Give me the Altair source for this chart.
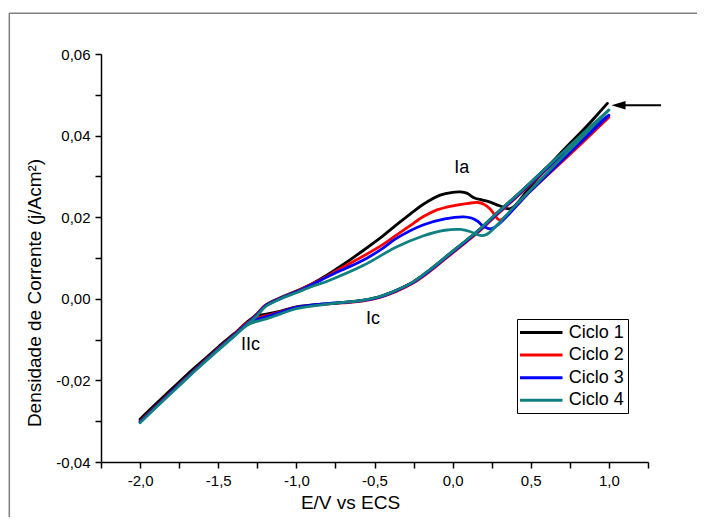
import altair as alt
import pandas as pd

cycles = ["Ciclo 1", "Ciclo 2", "Ciclo 3", "Ciclo 4"]
colors = ["#000000", "#ff0000", "#0000ff", "#108080"]

# Ciclo 1 (forward / anodic scan, then reverse / cathodic scan)
c1_fwd_E = [-2.00, -1.90, -1.80, -1.70, -1.60, -1.50, -1.40, -1.32, -1.25, -1.20, -1.10, -1.00, -0.90,
            -0.80, -0.70, -0.57, -0.45, -0.36, -0.27, -0.19, -0.08, 0.00, 0.05, 0.09, 0.14, 0.19, 0.24,
            0.30, 0.37, 0.50, 0.70, 0.85, 0.99]
c1_fwd_j = [-0.0295, -0.0258, -0.0222, -0.0186, -0.0152, -0.0118, -0.0086, -0.0060, -0.0036, -0.0016,
            0.0003, 0.0019, 0.0037, 0.0059, 0.0084, 0.0119, 0.0153, 0.0181, 0.0208, 0.0231, 0.0254,
            0.0261, 0.0262, 0.0259, 0.0247, 0.0242, 0.0237, 0.0228, 0.0221, 0.0276, 0.0361, 0.0420, 0.0479]
c1_rev_E = [0.99, 0.90, 0.80, 0.60, 0.40, 0.28, 0.18, 0.07, -0.04, -0.15, -0.25, -0.36, -0.47, -0.57,
            -0.70, -0.80, -1.00, -1.10, -1.20, -1.26, -1.32, -1.40, -1.50, -1.60, -1.70, -1.80, -1.90, -2.00]
c1_rev_j = [0.0479, 0.0440, 0.0397, 0.0322, 0.0250, 0.0209, 0.0173, 0.0138, 0.0104, 0.0070, 0.0042,
            0.0021, 0.0005, -0.0003, -0.0009, -0.0012, -0.0020, -0.0030, -0.0038, -0.0042, -0.0058,
            -0.0087, -0.0120, -0.0154, -0.0188, -0.0224, -0.0260, -0.0297]

# Ciclo 2
c2_fwd_E = [-2.00, -1.90, -1.80, -1.70, -1.60, -1.50, -1.40, -1.32, -1.25, -1.20, -1.10, -1.00, -0.90,
            -0.80, -0.70, -0.57, -0.45, -0.36, -0.27, -0.19, -0.10, 0.00, 0.10, 0.16, 0.20, 0.24, 0.27,
            0.30, 0.50, 0.70, 0.85, 1.00]
c2_fwd_j = [-0.0301, -0.0264, -0.0228, -0.0192, -0.0157, -0.0122, -0.0089, -0.0062, -0.0038, -0.0017,
            0.0002, 0.0018, 0.0036, 0.0056, 0.0078, 0.0105, 0.0132, 0.0156, 0.0180, 0.0201, 0.0218,
            0.0228, 0.0234, 0.0236, 0.0232, 0.0220, 0.0205, 0.0193, 0.0265, 0.0336, 0.0390, 0.0445]
c2_rev_E = [1.00, 0.80, 0.60, 0.40, 0.28, 0.18, 0.07, -0.04, -0.15, -0.25, -0.36, -0.47, -0.57, -0.70,
            -0.80, -1.00, -1.10, -1.20, -1.26, -1.32, -1.40, -1.50, -1.60, -1.70, -1.80, -1.90, -2.00]
c2_rev_j = [0.0445, 0.0385, 0.0317, 0.0246, 0.0205, 0.0169, 0.0134, 0.0100, 0.0066, 0.0039, 0.0018,
            0.0003, -0.0005, -0.0010, -0.0013, -0.0021, -0.0032, -0.0042, -0.0048, -0.0060, -0.0089,
            -0.0123, -0.0157, -0.0192, -0.0228, -0.0264, -0.0301]

# Ciclo 3
c3_fwd_E = [-2.00, -1.90, -1.80, -1.70, -1.60, -1.50, -1.40, -1.32, -1.25, -1.20, -1.10, -1.00, -0.90,
            -0.80, -0.70, -0.57, -0.45, -0.36, -0.19, -0.05, 0.07, 0.12, 0.16, 0.20, 0.25, 0.50, 0.75, 1.00]
c3_fwd_j = [-0.0302, -0.0265, -0.0229, -0.0193, -0.0158, -0.0123, -0.0090, -0.0063, -0.0039, -0.0018,
            0.0001, 0.0017, 0.0035, 0.0054, 0.0072, 0.0095, 0.0123, 0.0148, 0.0181, 0.0196, 0.0201,
            0.0198, 0.0190, 0.0177, 0.0172, 0.0265, 0.0358, 0.0450]
c3_rev_E = [1.00, 0.80, 0.60, 0.40, 0.28, 0.18, 0.07, -0.04, -0.15, -0.25, -0.36, -0.47, -0.57, -0.70,
            -0.80, -1.00, -1.10, -1.20, -1.26, -1.32, -1.40, -1.50, -1.60, -1.70, -1.80, -1.90, -2.00]
c3_rev_j = [0.0450, 0.0389, 0.0319, 0.0248, 0.0207, 0.0171, 0.0136, 0.0102, 0.0068, 0.0041, 0.0020,
            0.0004, -0.0004, -0.0009, -0.0012, -0.0021, -0.0033, -0.0045, -0.0052, -0.0063, -0.0091,
            -0.0124, -0.0158, -0.0193, -0.0229, -0.0265, -0.0302]

# Ciclo 4
c4_fwd_E = [-2.00, -1.90, -1.80, -1.70, -1.60, -1.50, -1.40, -1.32, -1.25, -1.20, -1.10, -1.00, -0.90,
            -0.79, -0.57, -0.36, -0.19, -0.05, 0.05, 0.11, 0.16, 0.19, 0.22, 0.40, 0.60, 0.80, 1.00]
c4_fwd_j = [-0.0304, -0.0267, -0.0231, -0.0195, -0.0160, -0.0125, -0.0092, -0.0065, -0.0041, -0.0020,
            0.0000, 0.0015, 0.0030, 0.0045, 0.0082, 0.0127, 0.0154, 0.0168, 0.0170, 0.0165, 0.0157,
            0.0155, 0.0158, 0.0228, 0.0307, 0.0385, 0.0463]
c4_rev_E = [1.00, 0.80, 0.60, 0.40, 0.28, 0.18, 0.07, -0.04, -0.15, -0.25, -0.36, -0.47, -0.57, -0.70,
            -0.80, -1.00, -1.10, -1.20, -1.26, -1.32, -1.40, -1.50, -1.60, -1.70, -1.80, -1.90, -2.00]
c4_rev_j = [0.0463, 0.0393, 0.0321, 0.0250, 0.0209, 0.0173, 0.0138, 0.0104, 0.0070, 0.0042, 0.0021,
            0.0005, -0.0003, -0.0009, -0.0013, -0.0024, -0.0037, -0.0050, -0.0056, -0.0066, -0.0093,
            -0.0126, -0.0160, -0.0195, -0.0231, -0.0267, -0.0304]

x_ticks = [-2.25, -2.0, -1.75, -1.5, -1.25, -1.0, -0.75, -0.5, -0.25, 0.0, 0.25, 0.5, 0.75, 1.0, 1.25]
y_ticks = [-0.04, -0.03, -0.02, -0.01, 0.0, 0.01, 0.02, 0.03, 0.04, 0.05, 0.06]

peak_labels = ["Ia", "Ic", "IIc"]
peak_E = [0.0585, -0.5097, -1.294]
peak_j = [0.0320, -0.00495, -0.01132]

arrow_E = [1.09]
arrow_E2 = [1.333]
arrow_j = [0.04743]
arrow_head_E = [1.0611]

series = [
    (cycles[0], c1_fwd_E + c1_rev_E, c1_fwd_j + c1_rev_j),
    (cycles[1], c2_fwd_E + c2_rev_E, c2_fwd_j + c2_rev_j),
    (cycles[2], c3_fwd_E + c3_rev_E, c3_fwd_j + c3_rev_j),
    (cycles[3], c4_fwd_E + c4_rev_E, c4_fwd_j + c4_rev_j),
]
rows = []
for name, es, js in series:
    for k, (e, j) in enumerate(zip(es, js)):
        rows.append({"ciclo": name, "E": e, "j": j, "ordem": k})
df = pd.DataFrame(rows)

ann = pd.DataFrame({"label": peak_labels, "E": peak_E, "j": peak_j})
arrow_df = pd.DataFrame({"E": arrow_E, "E2": arrow_E2, "j": arrow_j})
head_df = pd.DataFrame({"E": arrow_head_E, "j": arrow_j})
one = pd.DataFrame({"k": [0]})

W, H = 547, 408
xscale = alt.Scale(domain=[-2.25, 1.25], nice=False, zero=False)
yscale = alt.Scale(domain=[-0.04, 0.06], nice=False, zero=False)

x_label = ("abs(round(datum.value*4)) % 2 == 1 ? '' : (datum.value < -0.0001 ? '-' : '') + "
           "replace(format(abs(datum.value), '.1f'), '.', ',')")
y_label = ("abs(round(datum.value*100)) % 2 == 1 ? '' : (datum.value < -0.0001 ? '-' : '') + "
           "replace(format(abs(datum.value), '.2f'), '.', ',')")

x_axis = alt.Axis(values=x_ticks, labelExpr=x_label, title="E/V vs ECS",
                  titleX=249, titleY=40.5, titleAlign="center", titleBaseline="middle",
                  labelPadding=5, labelOverlap=False, labelFlush=False, labelBound=False)
y_axis = alt.Axis(values=y_ticks, labelExpr=y_label, title="Densidade de Corrente (j/Acm²)",
                  titleX=-67, titleY=238.5, titleAngle=270, titleAlign="center",
                  titleBaseline="middle", labelPadding=5, labelOverlap=False, labelFlush=False)


def X(field):
    return alt.X(field, scale=xscale, axis=x_axis)


def Y(field):
    return alt.Y(field, scale=yscale, axis=y_axis)


lines = alt.Chart(df).mark_line(strokeWidth=2.8, interpolate="catmull-rom",
                                strokeJoin="round", strokeCap="round").encode(
    x=X("E:Q"),
    y=Y("j:Q"),
    color=alt.Color("ciclo:N", scale=alt.Scale(domain=cycles, range=colors),
                    legend=alt.Legend(title=None, orient="none", legendX=416, legendY=265,
                                      strokeColor="black", padding=3.5,
                                      symbolType="M-2.5,0H2.5", symbolSize=289,
                                      symbolStrokeWidth=3, symbolOffset=10.75,
                                      labelOffset=17.5, labelFontSize=18, rowPadding=3.6,
                                      labelColor="black")),
    order="ordem:Q",
)

texts = alt.Chart(ann).mark_text(fontSize=18, align="center", baseline="middle", color="black").encode(
    x=X("E:Q"), y=Y("j:Q"), text="label:N")

arrow = alt.Chart(arrow_df).mark_rule(strokeWidth=2, color="black").encode(
    x=X("E:Q"), x2="E2:Q", y=Y("j:Q"))

head = alt.Chart(head_df).mark_point(shape="M-1,0L1,-0.6L1,0.6Z", filled=True, size=196,
                                     color="black", opacity=1).encode(
    x=X("E:Q"), y=Y("j:Q"))

frame_top = alt.Chart(one).mark_rule(color="#808080", strokeWidth=1.5).encode(
    x=alt.value(-91.7), x2=alt.value(600), y=alt.value(-40.7))
frame_left = alt.Chart(one).mark_rule(color="#808080", strokeWidth=1.5).encode(
    x=alt.value(-91.7), y=alt.value(-40.7), y2=alt.value(470))

chart = alt.layer(lines, frame_top, frame_left, texts, arrow, head).properties(
    width=W, height=H,
    autosize=alt.AutoSizeParams(type="none"),
    padding={"left": 93, "top": 46, "right": 49, "bottom": 55},
    background="white",
).configure(font="Liberation Sans").configure_axis(
    grid=False, domainColor="black", domainWidth=1.5, tickColor="black", tickWidth=1.5,
    tickSize=6, labelFontSize=15, labelColor="black", titleFontSize=19,
    titleFontWeight="normal", titleColor="black",
).configure_view(stroke="transparent")

chart.save("out.html", embed_options={"renderer": "svg", "actions": False})
